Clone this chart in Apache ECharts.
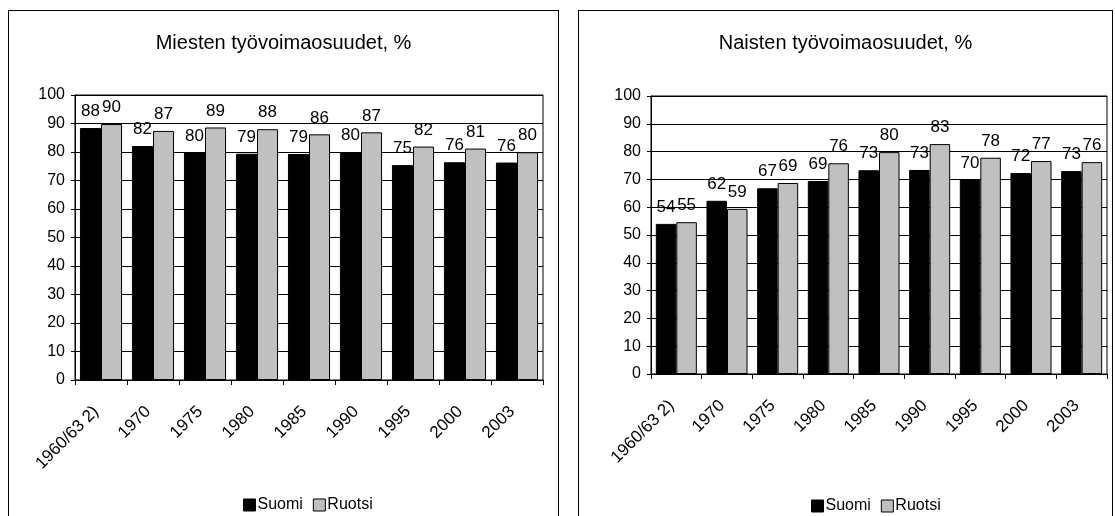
<!DOCTYPE html>
<html>
<head>
<meta charset="utf-8">
<script src="https://cdn.jsdelivr.net/npm/echarts@6/dist/echarts.min.js"></script>
<style>
  html, body { margin: 0; padding: 0; width: 1115px; height: 516px; overflow: hidden; background: #fff; }
  .panel { position: absolute; top: 10px; height: 510px; border: 1px solid #000; box-sizing: content-box; }
  #men { left: 8px; width: 549px; }
  #women { left: 578px; width: 533px; }
</style>
</head>
<body>
<div id="men" class="panel"></div>
<div id="women" class="panel"></div>
<script>
// vuodet
var years = ['1960/63 2)', '1970', '1975', '1980', '1985', '1990', '1995', '2000', '2003'];
// miehet
var menFinland = [88.4, 82.1, 79.8, 79.4, 79.3, 79.9, 75.4, 76.4, 76.3];
var menSweden = [89.8, 87.4, 88.6, 88.0, 86.2, 86.9, 81.9, 81.2, 79.9];
// naiset
var womenFinland = [54.0, 62.3, 66.8, 69.4, 73.3, 73.4, 70.0, 72.3, 73.0];
var womenSweden = [54.6, 59.4, 68.7, 75.8, 79.8, 82.7, 77.8, 76.6, 76.2];
var yTicks = [0, 10, 20, 30, 40, 50, 60, 70, 80, 90, 100];

var font = 'Liberation Sans, Arial, sans-serif';

function makeOption(title, finland, sweden, grid, legendPos) {
  var label = {
    show: true,
    position: 'top',
    distance: 8,
    color: '#000',
    fontSize: 17,
    fontFamily: font,
    formatter: function (p) { return Math.round(p.value); }
  };
  return {
    animation: false,
    textStyle: { fontFamily: font },
    title: {
      text: title,
      left: 'center',
      top: 17,
      textStyle: { fontSize: 20, fontWeight: 'normal', color: '#000', fontFamily: font }
    },
    legend: {
      left: legendPos.left,
      top: legendPos.top,
      itemWidth: 12,
      itemHeight: 12,
      itemGap: 10,
      icon: 'rect',
      textStyle: { fontSize: 16, color: '#000', fontFamily: font, padding: [0, 0, 0, -3] },
      data: [
        { name: 'Suomi', itemStyle: { color: '#000', borderColor: '#000', borderWidth: 1 } },
        { name: 'Ruotsi', itemStyle: { color: '#c0c0c0', borderColor: '#000', borderWidth: 1 } }
      ]
    },
    grid: {
      left: grid.left, right: grid.right, top: grid.top, bottom: grid.bottom,
      show: true, borderColor: '#000', borderWidth: 1
    },
    xAxis: {
      type: 'category',
      data: years,
      axisLine: { lineStyle: { color: '#000', width: 1 } },
      axisTick: { show: true, length: 5, lineStyle: { color: '#000' } },
      axisLabel: { rotate: 45, margin: 24, padding: [0, 7, 0, 0], fontSize: 17, color: '#000', fontFamily: font, interval: 0 }
    },
    yAxis: {
      type: 'value',
      min: yTicks[0],
      max: yTicks[yTicks.length - 1],
      interval: 10,
      axisLine: { show: true, lineStyle: { color: '#000', width: 1 } },
      axisTick: { show: true, length: 4, lineStyle: { color: '#000' } },
      axisLabel: { margin: 10, fontSize: 16, color: '#000', fontFamily: font },
      splitLine: { show: true, lineStyle: { color: '#000', width: 1 } }
    },
    series: [
      {
        name: 'Suomi',
        type: 'bar',
        data: finland,
        barGap: '0%',
        barCategoryGap: '19%',
        itemStyle: { color: '#000', borderColor: '#000', borderWidth: 1 },
        label: label
      },
      {
        name: 'Ruotsi',
        type: 'bar',
        data: sweden,
        barGap: '0%',
        barCategoryGap: '19%',
        itemStyle: { color: '#c0c0c0', borderColor: '#000', borderWidth: 1 },
        label: label
      }
    ]
  };
}

var menChart = echarts.init(document.getElementById('men'));
menChart.setOption(makeOption('Miesten työvoimaosuudet, %', menFinland, menSweden,
  { left: 66, right: 15, top: 84, bottom: 141 }, { left: 229, top: 481 }));

var womenChart = echarts.init(document.getElementById('women'));
womenChart.setOption(makeOption('Naisten työvoimaosuudet, %', womenFinland, womenSweden,
  { left: 72, right: 5, top: 85, bottom: 147 }, { left: 227, top: 482 }));
</script>
</body>
</html>
